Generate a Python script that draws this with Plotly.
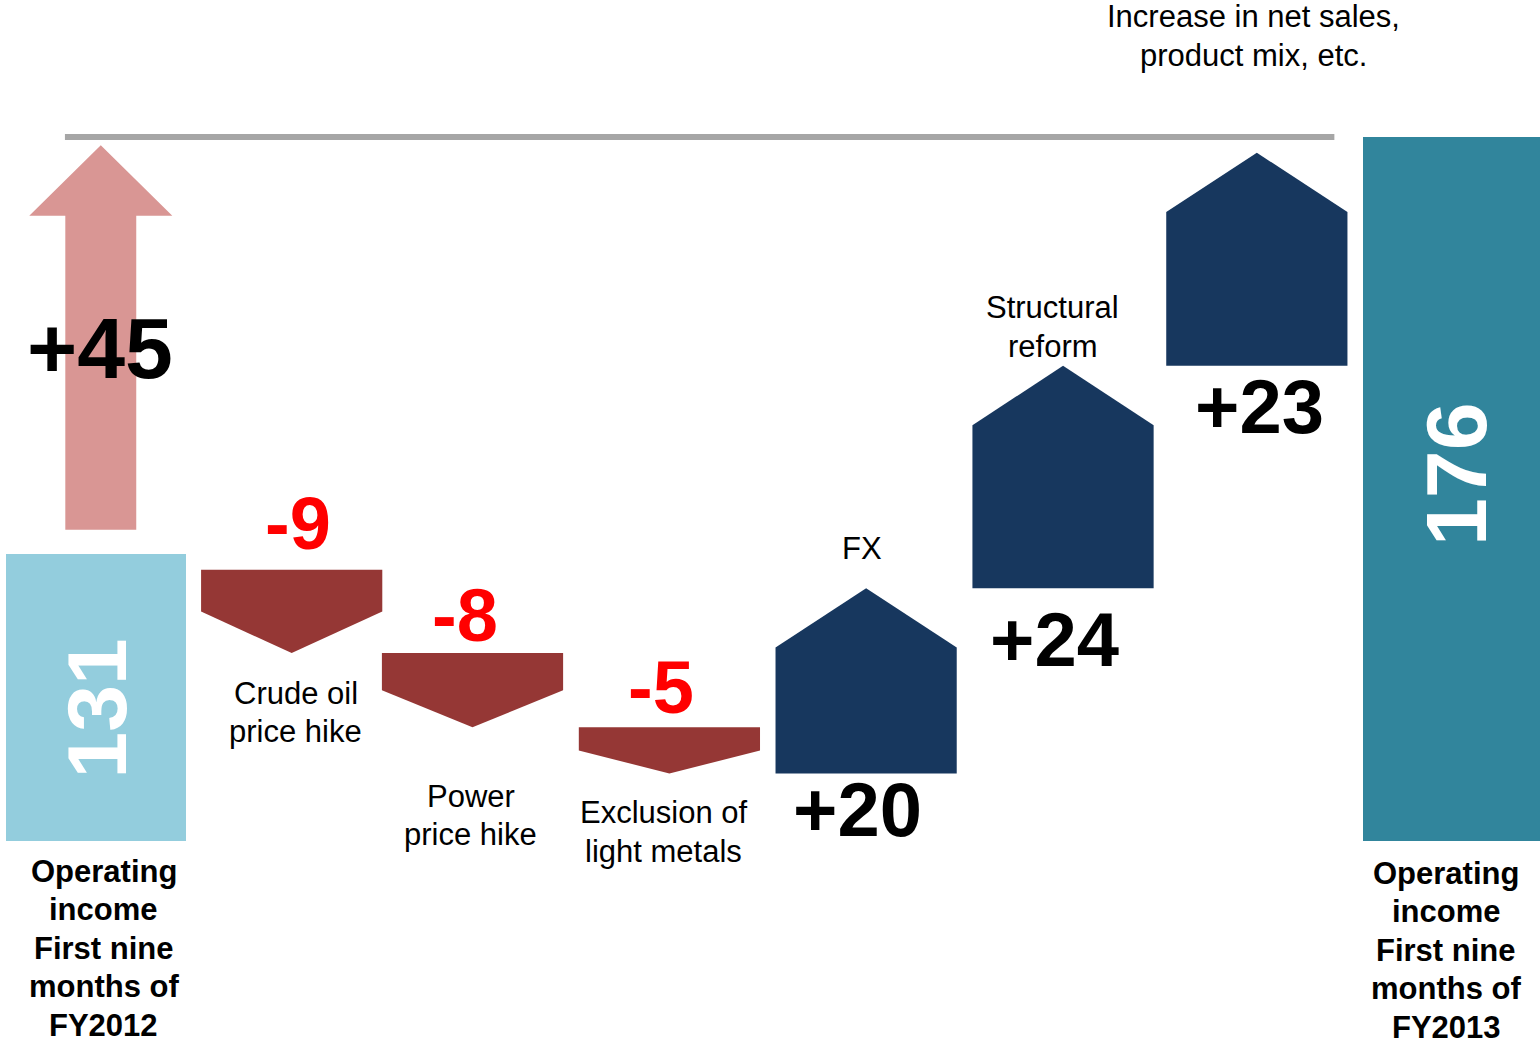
import plotly.graph_objects as go

# ---------------- data ----------------
categories = [
    "Operating<br>income<br>First nine<br>months of<br>FY2012",
    "Crude oil<br>price hike",
    "Power<br>price hike",
    "Exclusion of<br>light metals",
    "FX",
    "Structural<br>reform",
    "Increase in net sales,<br>product mix, etc.",
    "Operating<br>income<br>First nine<br>months of<br>FY2013",
]
start_total = 131
changes = [-9, -8, -5, 20, 24, 23]
change_labels = ["-9", "-8", "-5", "+20", "+24", "+23"]
end_total = 176
total_change_label = "+45"

# ---------------- style / layout constants ----------------
FONT = "Liberation Sans, Arial, sans-serif"
AXIS_FLOOR = 100          # value at the bottom edge of the total bars
Y_RANGE = [78.01, 190.78]
X_RANGE = [-0.495, 7.451]
BAR_W = 0.929
SHAPE_W = 0.935
SHAPE_SHIFT = 1.7         # step shapes sit slightly below their levels
TIP_UP = 6.4              # height of the roof on rising shapes
LABEL_SIZE = 31
LINE_GAP = 38.5           # px between text lines
C_START = "#93CDDD"
C_END = "#31859C"
C_NEG = "#953735"
C_POS = "#17375E"
C_ARROW = "#D99694"
C_LINE = "#A6A6A6"

# cosmetic nudges (x in category units, y in pixels)
shape_dx = [0.01, -0.057, -0.041, -0.026, -0.01, -0.01]
chg_dx = [0.042, -0.096, -0.085, -0.068, -0.052, 0.006]
chg_dy = [30, 22, 24, -52, -67, -56]
cat_dx = [0.032, -0.065, -0.069, -0.048, -0.062, -0.025]
cat_dy = [-75, -104, -74, 24, 23, 101]

# cumulative levels
levels = [start_total]
for d in changes:
    levels.append(levels[-1] + d)

fig = go.Figure()

# total bars
fig.add_trace(go.Bar(
    x=[0, len(categories) - 1],
    y=[start_total - AXIS_FLOOR, end_total - AXIS_FLOOR],
    base=AXIS_FLOOR,
    width=BAR_W,
    marker=dict(color=[C_START, C_END], line=dict(width=0)),
    hoverinfo="skip", showlegend=False,
))

# step shapes (pentagon arrows)
for i, d in enumerate(changes):
    x = i + 1 + shape_dx[i]
    a = levels[i] - SHAPE_SHIFT
    b = levels[i + 1] - SHAPE_SHIFT
    if d < 0:
        shoulder = a - (a - b) * 0.5
        col = C_NEG
    else:
        shoulder = b - TIP_UP
        col = C_POS
    hw = SHAPE_W / 2
    fig.add_trace(go.Scatter(
        x=[x - hw, x + hw, x + hw, x, x - hw, x - hw],
        y=[a, a, shoulder, b, shoulder, a],
        mode="lines", fill="toself", fillcolor=col,
        line=dict(width=0, color=col),
        hoverinfo="skip", showlegend=False,
    ))

# big arrow for the total change
ax = 0.025
arrow_base = start_total + 2.6
arrow_tip = end_total - 0.9
head_base = arrow_tip - 7.6
sh, hh = 0.183, 0.369
fig.add_trace(go.Scatter(
    x=[ax - sh, ax + sh, ax + sh, ax + hh, ax, ax - hh, ax - sh, ax - sh],
    y=[arrow_base, arrow_base, head_base, head_base, arrow_tip, head_base, head_base, arrow_base],
    mode="lines", fill="toself", fillcolor=C_ARROW,
    line=dict(width=0, color=C_ARROW),
    hoverinfo="skip", showlegend=False,
))

# reference line at the ending level
fig.add_trace(go.Scatter(
    x=[-0.16, 6.39], y=[end_total, end_total],
    mode="lines", line=dict(color=C_LINE, width=6),
    hoverinfo="skip", showlegend=False,
))

ann = []


def multiline(x, y, center_shift, text, bold=False):
    lines = text.split("<br>")
    n = len(lines)
    for k, ln in enumerate(lines):
        t = f"<b>{ln}</b>" if bold else ln
        ann.append(dict(x=x, y=y, yshift=center_shift + ((n - 1) / 2 - k) * LINE_GAP,
                        text=t, font=dict(size=LABEL_SIZE, color="black", family=FONT),
                        showarrow=False, xanchor="center", yanchor="middle"))


# +45 on the arrow
ann.append(dict(x=0.02, y=(start_total + end_total) / 2, yshift=-3, text=f"<b>{total_change_label}</b>",
                font=dict(size=86, color="black", family=FONT), showarrow=False,
                xanchor="center", yanchor="middle"))
# change values
for i, d in enumerate(changes):
    col = "#FF0000" if d < 0 else "black"
    size = 74 if d < 0 else 76
    ann.append(dict(x=i + 1 + chg_dx[i], y=levels[i], yshift=chg_dy[i],
                    text=f"<b>{change_labels[i]}</b>",
                    font=dict(size=size, color=col, family=FONT), showarrow=False,
                    xanchor="center", yanchor="middle"))
# step category labels
for i in range(len(changes)):
    multiline(i + 1 + cat_dx[i], levels[i + 1], cat_dy[i], categories[i + 1])
# totals' labels
multiline(0.041, AXIS_FLOOR, -107, categories[0], bold=True)
multiline(6.966, AXIS_FLOOR, -109, categories[-1], bold=True)
# values inside total bars
ann.append(dict(x=0.005, y=(start_total + AXIS_FLOOR) / 2, yshift=-11, text=f"<b>{start_total}</b>",
                textangle=-90, font=dict(size=84, color="white", family=FONT), showarrow=False,
                xanchor="center", yanchor="middle"))
ann.append(dict(x=7.017, y=(end_total + AXIS_FLOOR) / 2, yshift=15, text=f"<b>{end_total}</b>",
                textangle=-90, font=dict(size=86, color="white", family=FONT), showarrow=False,
                xanchor="center", yanchor="middle"))

fig.update_layout(
    width=1540, height=1045,
    margin=dict(l=0, r=0, t=0, b=0),
    paper_bgcolor="white", plot_bgcolor="white",
    xaxis=dict(range=X_RANGE, visible=False, fixedrange=True),
    yaxis=dict(range=Y_RANGE, visible=False, fixedrange=True),
    annotations=ann,
    bargap=0,
)

fig.write_html("out.html", config={"displayModeBar": False})
